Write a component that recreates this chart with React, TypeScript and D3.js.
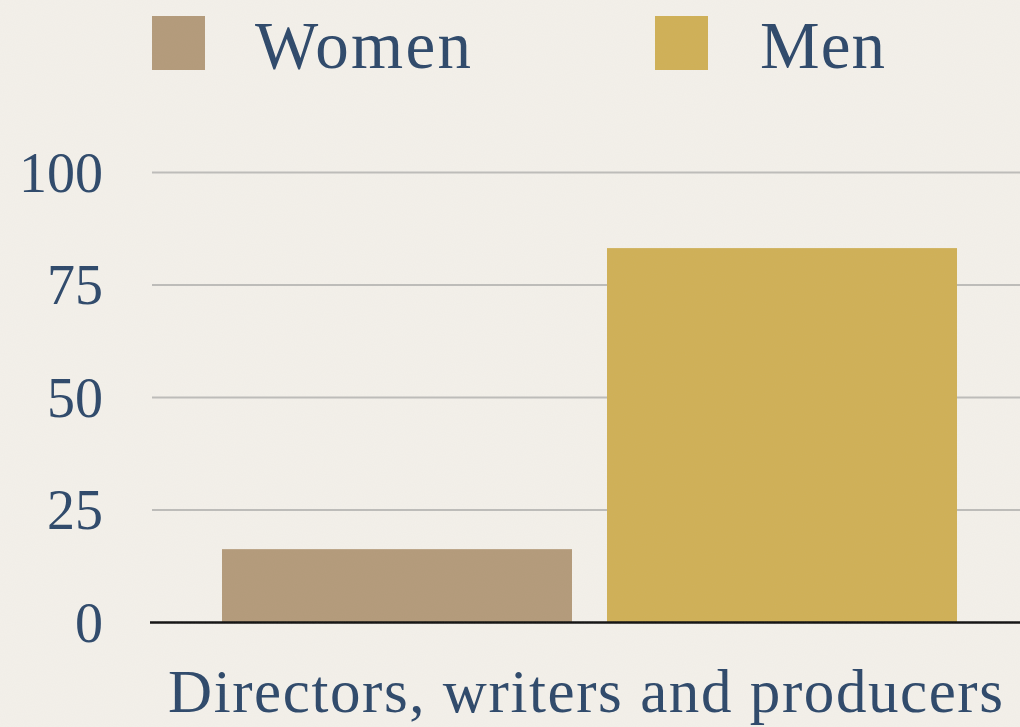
import React, { useEffect, useRef } from "react";
import * as d3 from "d3";

const categories = ["Directors, writers and producers"];
const seriesNames = ["Women", "Men"];
const womenValues = [16.3];
const menValues = [83.2];
const yTicks = [0, 25, 50, 75, 100];

const W = 1020;
const H = 727;
const colors: Record<string, string> = { Women: "#b39a7a", Men: "#cfb056" };
const textColor = "#2d486a";
const FONT = "'Liberation Serif', 'Times New Roman', serif";
const legendTextLen: Record<string, number> = { Women: 216, Men: 125 };

export default function App() {
  const ref = useRef<SVGSVGElement | null>(null);

  useEffect(() => {
    const svg = d3.select(ref.current);
    svg.selectAll("*").remove();

    const defs = svg.append("defs");
    const f = defs.append("filter").attr("id", "paper").attr("x", 0).attr("y", 0).attr("width", "100%").attr("height", "100%");
    f.append("feTurbulence").attr("type", "fractalNoise").attr("baseFrequency", 0.9).attr("numOctaves", 2).attr("seed", 3).attr("result", "noise");
    f.append("feColorMatrix").attr("in", "noise").attr("type", "matrix")
      .attr("values", "0 0 0 0 0.55  0 0 0 0 0.5  0 0 0 0 0.42  0 0 0 0.06 0");

    svg.append("rect").attr("width", W).attr("height", H).attr("fill", "#f3f0ea");

    const y = d3.scaleLinear().domain([0, 100]).range([622.5, 172.5]);
    const x0 = d3.scaleBand<string>().domain(categories).range([150, 1029]).padding(0);
    const x1 = d3.scaleBand<string>().domain(seriesNames).range([0, x0.bandwidth()])
      .paddingInner(0.0909).paddingOuter(0.187);

    // gridlines
    const grid = svg.append("g");
    grid.selectAll("line").data(yTicks.filter((t) => t !== 0)).join("line")
      .attr("x1", 152).attr("x2", W)
      .attr("y1", (d) => y(d)).attr("y2", (d) => y(d))
      .attr("stroke", "#bdbcb9").attr("stroke-width", 2);

    // y tick labels
    svg.append("g").selectAll("text").data(yTicks).join("text")
      .attr("x", 103).attr("y", (d) => y(d))
      .attr("text-anchor", "end").attr("dominant-baseline", "central")
      .attr("font-family", FONT).attr("font-size", 56).attr("fill", textColor)
      .text((d) => String(d));

    // bars
    const valuesBySeries: Record<string, number[]> = { Women: womenValues, Men: menValues };
    const rows = categories.flatMap((c, i) => seriesNames.map((s) => ({ c, s, v: valuesBySeries[s][i] })));
    svg.append("g").selectAll("rect").data(rows).join("rect")
      .attr("x", (d) => (x0(d.c) as number) + (x1(d.s) as number))
      .attr("width", x1.bandwidth())
      .attr("y", (d) => y(d.v))
      .attr("height", (d) => y(0) - y(d.v))
      .attr("fill", (d) => colors[d.s]);

    // baseline
    svg.append("line").attr("x1", 150).attr("x2", W).attr("y1", y(0)).attr("y2", y(0))
      .attr("stroke", "#111").attr("stroke-width", 2.5);

    // x label
    svg.append("g").selectAll("text").data(categories).join("text")
      .attr("x", (d) => (x0(d) as number) + 435.5)
      .attr("y", 712)
      .attr("text-anchor", "middle")
      .attr("font-family", FONT).attr("font-size", 61).attr("fill", textColor)
      .attr("textLength", 835).attr("lengthAdjust", "spacing")
      .text((d) => d);

    // legend
    const legendX = [152, 655];
    const lg = svg.append("g").selectAll("g").data(seriesNames).join("g")
      .attr("transform", (_d, i) => `translate(${legendX[i]},0)`);
    lg.append("rect").attr("x", 0).attr("y", 16).attr("width", 53).attr("height", 54)
      .attr("fill", (d) => colors[d]);
    lg.append("text").attr("x", (_d, i) => (i === 0 ? 103 : 105)).attr("y", 68)
      .attr("font-family", FONT).attr("font-size", 67).attr("fill", textColor)
      .attr("textLength", (d) => legendTextLen[d]).attr("lengthAdjust", "spacing")
      .text((d) => d);

    // paper texture
    svg.append("rect").attr("width", W).attr("height", H).attr("filter", "url(#paper)")
      .attr("fill", "#000").attr("pointer-events", "none");
  }, []);

  return (
    <svg
      ref={ref}
      width={W}
      height={H}
      style={{ position: "fixed", left: 0, top: 0, display: "block" }}
    />
  );
}
